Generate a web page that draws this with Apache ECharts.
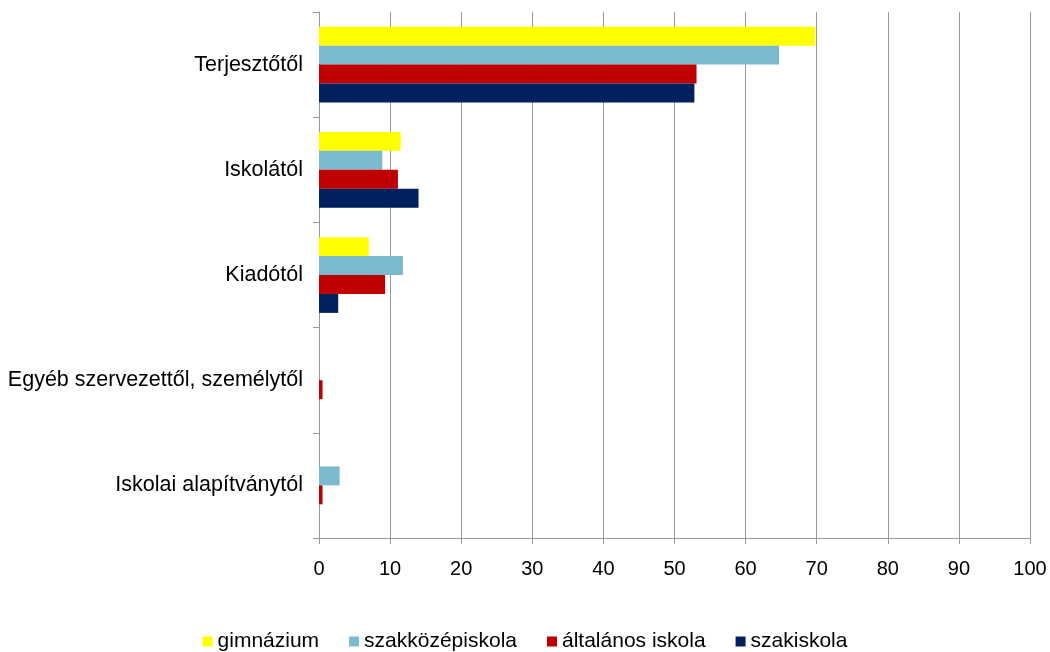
<!DOCTYPE html>
<html>
<head>
<meta charset="utf-8">
<script src="https://cdn.jsdelivr.net/npm/echarts@6/dist/echarts.min.js"></script>
<style>
html,body{margin:0;padding:0;background:#fff;}
#main{width:1050px;height:652px;}
</style>
</head>
<body>
<div id="main"></div>
<script>
var categories = ['Terjesztőtől', 'Iskolától', 'Kiadótól', 'Egyéb szervezettől, személytől', 'Iskolai alapítványtól'];
var seriesNames = ['gimnázium', 'szakközépiskola', 'általános iskola', 'szakiskola'];
var xTicks = [0, 100, 10];   // min, max, interval
var gimnazium = [69.8, 11.5, 7.0, 0, 0];
var szakkozep = [64.7, 8.9, 11.8, 0, 2.9];
var altalanos = [53.1, 11.1, 9.3, 0.5, 0.5];
var szakiskola = [52.8, 14.0, 2.7, 0, 0];
var colors = ['#ffff00', '#7bb9cf', '#c00000', '#002060'];

function init(){
	var values = [gimnazium, szakkozep, altalanos, szakiskola];
	var series = [];
	for (var i = 0; i < seriesNames.length; i++) {
		series.push({
			name: seriesNames[i],
			type: 'bar',
			data: values[i],
			barGap: '0%',
			barCategoryGap: '28%',
			itemStyle: {color: colors[i]}
		});
	}
	var option = {
		animation: false,
		textStyle: {fontFamily: 'Liberation Sans, Arial, sans-serif'},
		color: colors,
		grid: {left: 319, right: 20, top: 12, bottom: 114},
		legend: {
			top: 626,
			left: 'center',
			icon: 'rect',
			itemWidth: 10,
			itemHeight: 10,
			itemGap: 30,
			textStyle: {fontSize: 21, color: '#000'},
			data: seriesNames
		},
		xAxis: {
			type: 'value',
			min: xTicks[0],
			max: xTicks[1],
			interval: xTicks[2],
			axisLine: {show: true, lineStyle: {color: '#999'}},
			axisTick: {show: true, length: 6, lineStyle: {color: '#999'}},
			axisLabel: {fontSize: 20, color: '#000', margin: 21},
			splitLine: {show: true, lineStyle: {color: '#999'}}
		},
		yAxis: {
			type: 'category',
			inverse: true,
			data: categories,
			axisLine: {show: true, lineStyle: {color: '#999'}},
			axisTick: {show: true, length: 6, lineStyle: {color: '#999'}},
			axisLabel: {fontSize: 21.5, color: '#000', margin: 16},
			splitLine: {show: false}
		},
		series: series
	};
	var myChart = echarts.init(document.getElementById('main'));
	myChart.setOption(option);
}
init();
</script>
</body>
</html>
